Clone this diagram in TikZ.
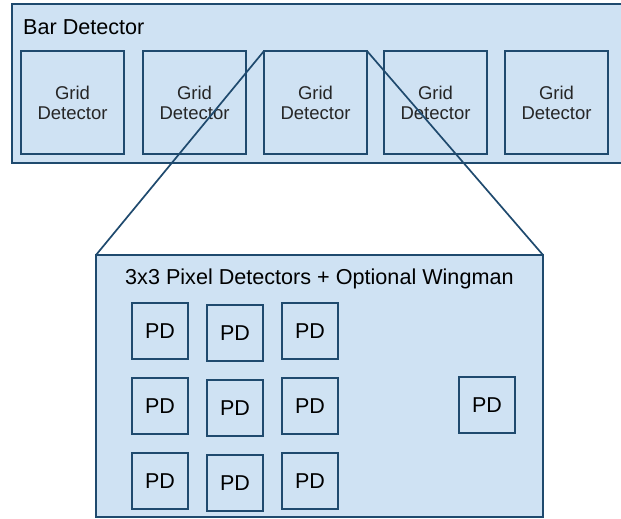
\documentclass[tikz,border=0pt]{standalone}
\usepackage{fontspec}
\setmainfont{Liberation Sans}
\definecolor{fillb}{HTML}{CFE2F3}
\definecolor{edgeb}{HTML}{1F4A6E}
\begin{document}
\begin{tikzpicture}[x=1pt,y=-1pt,
  container/.style={draw=edgeb,fill=fillb,line width=2.3pt,inner sep=0pt,outer sep=0pt,anchor=north west},
  gridbox/.style={draw=edgeb,fill=fillb,line width=2.3pt,inner sep=0pt,outer sep=0pt,anchor=north west,
    minimum width=103pt,minimum height=103pt,align=center,font=\fontsize{18.5}{20}\selectfont,text=black!85},
  pdbox/.style={draw=edgeb,fill=fillb,line width=2.3pt,inner sep=0pt,outer sep=0pt,anchor=north west,
    minimum width=56pt,minimum height=56pt,font=\fontsize{21.5}{24}\selectfont,text=black},
  title/.style={anchor=west,inner sep=0pt,font=\fontsize{21.6}{24}\selectfont,text=black},
  zoomline/.style={draw=edgeb,line width=1.7pt}]
\useasboundingbox (0,0) rectangle (621,519);
\node[container,minimum width=613pt,minimum height=159pt] (bar) at (12,4) {};
\node[title] (bartitle) at (23,27) {Bar Detector};
\node[gridbox] (g1) at (21,51) {Grid\\Detector};
\node[gridbox] (g2) at (143,51) {Grid\\Detector};
\node[gridbox] (g3) at (264,51) {Grid\\Detector};
\node[gridbox] (g4) at (384,51) {Grid\\Detector};
\node[gridbox] (g5) at (505,51) {Grid\\Detector};
\node[container,minimum width=447pt,minimum height=262pt] (pix) at (96,255) {};
\node[title] (pixtitle) at (125,279) {3x3 Pixel Detectors + Optional Wingman};
\draw[zoomline] (g3.north west) -- (pix.north west);
\draw[zoomline] (g3.north east) -- (pix.north east);
\node[pdbox] (p11) at (132,303) {PD};
\node[pdbox] (p12) at (207,305) {PD};
\node[pdbox] (p13) at (282,303) {PD};
\node[pdbox] (p21) at (132,378) {PD};
\node[pdbox] (p22) at (207,380) {PD};
\node[pdbox] (p23) at (282,378) {PD};
\node[pdbox] (p31) at (132,453) {PD};
\node[pdbox] (p32) at (207,455) {PD};
\node[pdbox] (p33) at (282,453) {PD};
\node[pdbox] (wing) at (459,377) {PD};
\end{tikzpicture}
\end{document}
